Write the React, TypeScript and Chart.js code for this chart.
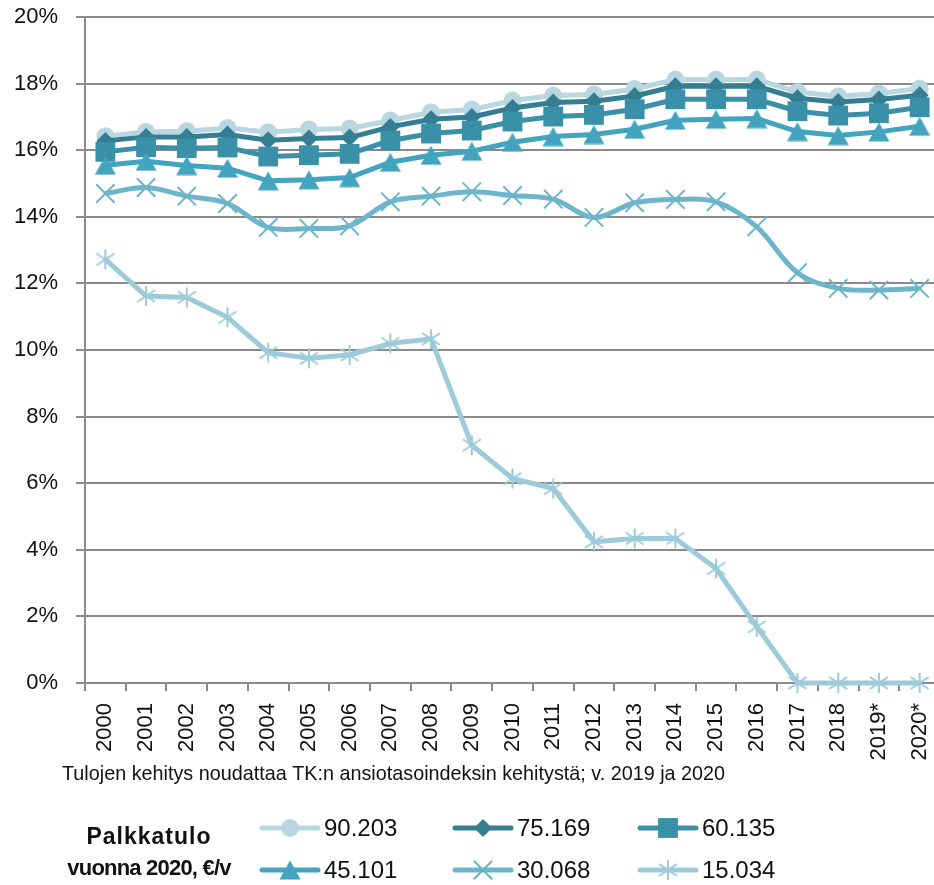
import React, { useEffect, useRef } from 'react';
import { Chart, registerables } from 'chart.js';
import { drawPoint } from 'chart.js/helpers';

Chart.register(...registerables);

// ---------- DATA ----------
const years = ['2000', '2001', '2002', '2003', '2004', '2005', '2006', '2007', '2008', '2009', '2010',
  '2011', '2012', '2013', '2014', '2015', '2016', '2017', '2018', '2019*', '2020*'];

const seriesNames = ['90.203', '75.169', '60.135', '45.101', '30.068', '15.034'];

const s90203 = [16.42, 16.55, 16.57, 16.67, 16.54, 16.62, 16.65, 16.89, 17.14, 17.22, 17.49, 17.64, 17.67, 17.84, 18.12, 18.12, 18.12, 17.75, 17.62, 17.70, 17.85];
const s75169 = [16.28, 16.40, 16.40, 16.47, 16.30, 16.35, 16.38, 16.70, 16.93, 17.00, 17.27, 17.43, 17.47, 17.63, 17.92, 17.92, 17.92, 17.56, 17.45, 17.52, 17.65];
const s60135 = [15.95, 16.09, 16.06, 16.08, 15.81, 15.85, 15.89, 16.29, 16.50, 16.59, 16.86, 17.01, 17.06, 17.23, 17.53, 17.53, 17.53, 17.17, 17.04, 17.11, 17.29];
const s45101 = [15.55, 15.67, 15.54, 15.46, 15.08, 15.11, 15.18, 15.64, 15.85, 15.97, 16.24, 16.41, 16.47, 16.63, 16.90, 16.93, 16.95, 16.56, 16.44, 16.55, 16.72];
const s30068 = [14.70, 14.88, 14.62, 14.40, 13.68, 13.65, 13.73, 14.45, 14.62, 14.75, 14.64, 14.53, 13.98, 14.42, 14.52, 14.45, 13.70, 12.32, 11.85, 11.80, 11.85];
const s15034 = [12.72, 11.62, 11.58, 10.98, 9.92, 9.75, 9.85, 10.20, 10.33, 7.14, 6.14, 5.84, 4.24, 4.34, 4.34, 3.44, 1.69, 0, 0, 0, 0];

const seriesValues = [s90203, s75169, s60135, s45101, s30068, s15034];

const yMin = 0;
const yMax = 20;
const yStep = 2;

const captionText = 'Tulojen kehitys noudattaa TK:n ansiotasoindeksin kehitystä; v. 2019 ja 2020';
const legendTitle = ['Palkkatulo', 'vuonna 2020, €/v'];

// ---------- STYLE ----------
const colors = ['#b9d7e1', '#337e92', '#3a8fa9', '#43a4bf', '#6cb5cb', '#9dcbda'];
const GRID = '#8a8a8a';
const TEXT = '#111111';
const FONT = "'Liberation Sans', Arial, sans-serif";

function makeTriangle(color: string) {
  const c = document.createElement('canvas');
  c.width = 22; c.height = 20;
  const ctx = c.getContext('2d')!;
  ctx.fillStyle = color;
  ctx.beginPath();
  ctx.moveTo(11, 0.5);
  ctx.lineTo(21.5, 19.5);
  ctx.lineTo(0.5, 19.5);
  ctx.closePath();
  ctx.fill();
  return c;
}

function makeAsterisk(color: string) {
  const c = document.createElement('canvas');
  c.width = 22; c.height = 22;
  const ctx = c.getContext('2d')!;
  ctx.strokeStyle = color;
  ctx.lineWidth = 2;
  ctx.beginPath();
  ctx.moveTo(11, 1); ctx.lineTo(11, 21);
  ctx.moveTo(2, 5); ctx.lineTo(20, 17);
  ctx.moveTo(2, 17); ctx.lineTo(20, 5);
  ctx.stroke();
  return c;
}

export default function App() {
  const ref = useRef<HTMLCanvasElement | null>(null);

  useEffect(() => {
    if (!ref.current) return;
    const tri = makeTriangle(colors[3]);
    const ast = makeAsterisk(colors[5]);
    const markers: any[] = [
      { pointStyle: 'circle', radius: 9, borderWidth: 0 },
      { pointStyle: 'rectRot', radius: 9, borderWidth: 0 },
      { pointStyle: 'rect', radius: 14, borderWidth: 0 },
      { pointStyle: tri, radius: 11, borderWidth: 0 },
      { pointStyle: 'crossRot', radius: 13, borderWidth: 2 },
      { pointStyle: ast, radius: 11, borderWidth: 2 },
    ];

    const datasets = seriesNames.map((name, i) => ({
      label: name,
      data: seriesValues[i],
      borderColor: colors[i],
      backgroundColor: colors[i],
      borderWidth: 5,
      pointStyle: markers[i].pointStyle,
      pointRadius: markers[i].radius,
      pointBorderWidth: markers[i].borderWidth,
      pointBackgroundColor: colors[i],
      pointBorderColor: colors[i],
      tension: i === 4 ? 0.35 : 0,
      order: 5 - i,
      clip: false as any,
    }));

    const overlay = {
      id: 'overlay',
      afterDraw(chart: any) {
        const ctx = chart.ctx as CanvasRenderingContext2D;
        ctx.save();
        // caption
        ctx.fillStyle = TEXT;
        ctx.font = `19.8px ${FONT}`;
        ctx.textAlign = 'left';
        ctx.textBaseline = 'alphabetic';
        ctx.fillText(captionText, 62, 780);

        // legend title
        ctx.textAlign = 'center';
        ctx.textBaseline = 'middle';
        ctx.font = `bold 23px ${FONT}`;
        (ctx as any).letterSpacing = '1px';
        ctx.fillText(legendTitle[0], 149, 838);
        ctx.font = `bold 22px ${FONT}`;
        (ctx as any).letterSpacing = '-0.8px';
        ctx.fillText(legendTitle[1], 149, 869);
        (ctx as any).letterSpacing = '0px';

        // legend items
        const colX = [262, 455, 640];
        const rowY = [828, 870];
        seriesNames.forEach((name, i) => {
          const x0 = colX[i % 3];
          const y0 = rowY[Math.floor(i / 3)];
          ctx.strokeStyle = colors[i];
          ctx.lineWidth = 5;
          ctx.lineCap = 'round';
          ctx.beginPath();
          ctx.moveTo(x0, y0);
          ctx.lineTo(x0 + 56, y0);
          ctx.stroke();
          ctx.lineCap = 'butt';
          ctx.fillStyle = colors[i];
          ctx.strokeStyle = colors[i];
          ctx.lineWidth = markers[i].borderWidth;
          drawPoint(ctx, {
            pointStyle: markers[i].pointStyle,
            radius: markers[i].radius,
            borderWidth: markers[i].borderWidth,
            rotation: 0,
          } as any, x0 + 28, y0);
          ctx.fillStyle = TEXT;
          ctx.font = `24px ${FONT}`;
          ctx.textAlign = 'left';
          ctx.textBaseline = 'middle';
          ctx.fillText(name, x0 + 62, y0 + 1);
        });
        ctx.restore();
      },
    };

    const chart = new Chart(ref.current, {
      type: 'line',
      data: { labels: years, datasets },
      options: {
        animation: false,
        responsive: false,
        maintainAspectRatio: false,
        layout: { padding: { left: 0, top: 17, right: 12, bottom: 0 } },
        plugins: { legend: { display: false }, tooltip: { enabled: false }, title: { display: false } },
        scales: {
          x: {
            offset: true,
            grid: { display: true, drawOnChartArea: false, drawTicks: true, tickLength: 8, color: GRID, lineWidth: 2, offset: true },
            border: { display: true, color: GRID, width: 2 },
            ticks: { minRotation: 90, maxRotation: 90, autoSkip: false, padding: 12, color: TEXT, font: { family: FONT, size: 22 } },
            afterFit: (s: any) => { s.height = 202; s.paddingLeft = 0; s.paddingRight = 0; },
          },
          y: {
            min: yMin,
            max: yMax,
            grid: { color: GRID, lineWidth: 2, drawTicks: true, tickLength: 9 },
            border: { display: true, color: GRID, width: 2 },
            ticks: { stepSize: yStep, padding: 18, color: TEXT, font: { family: FONT, size: 22 }, callback: (v: any) => `${v}%` },
            afterFit: (s: any) => { s.width = 85; s.paddingTop = 0; s.paddingBottom = 0; },
          },
        },
      },
      plugins: [overlay],
    });
    return () => chart.destroy();
  }, []);

  return (
    <div style={{ position: 'fixed', left: 0, top: 0, width: 934, height: 885, overflow: 'hidden', background: '#fff' }}>
      <canvas ref={ref} width={955} height={885} style={{ display: 'block', width: 955, height: 885 }} />
    </div>
  );
}
